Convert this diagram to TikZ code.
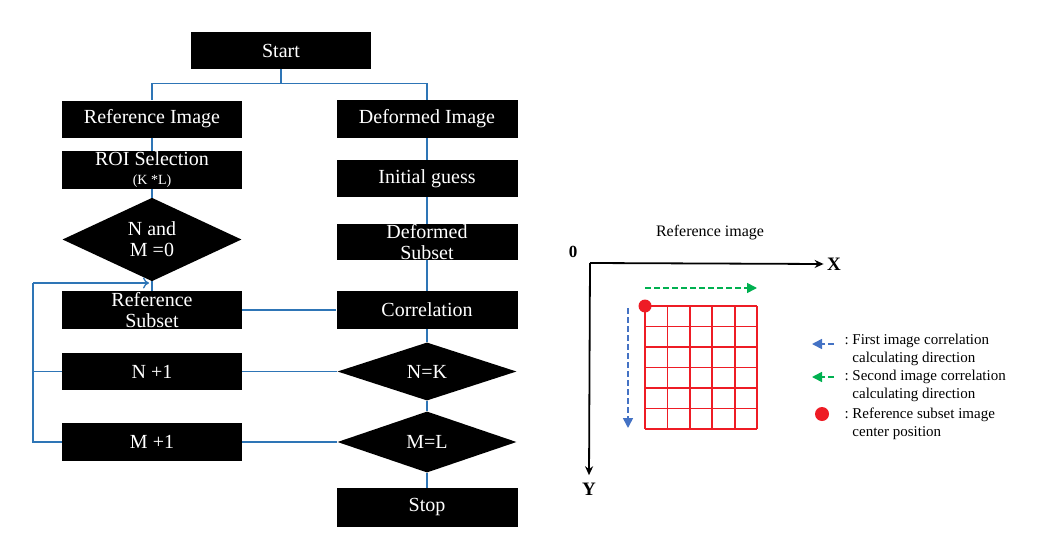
\documentclass[tikz,border=0pt]{standalone}
\usepackage{fontspec}
\setmainfont{Liberation Serif}
\usetikzlibrary{shapes.geometric, arrows.meta}
\definecolor{flowblue}{HTML}{2E75B6}
\definecolor{dirblue}{HTML}{4472C4}
\definecolor{dirgreen}{HTML}{00B050}
\definecolor{gridred}{HTML}{EE1C25}
\tikzset{
  box/.style={rectangle, fill=black, text=white, minimum width=180pt, minimum height=37pt, inner sep=0pt, align=center, font=\fontsize{20}{21}\selectfont},
  decision/.style={diamond, fill=black, text=white, minimum width=179pt, inner sep=0pt, align=center, font=\fontsize{20}{21}\selectfont},
  link/.style={flowblue, line width=1.3pt},
  axis/.style={black, line width=1.8pt, -{Stealth[length=9pt,width=8pt]}},
  dirarrow/.style={line width=1.6pt, dash pattern=on 6pt off 3pt, -{Triangle[length=10pt,width=10pt]}},
  reddot/.style={circle, fill=gridred, inner sep=0pt, minimum size=13pt},
  legend/.style={anchor=west, align=left, font=\fontsize{15}{18.5}\selectfont}
}
\begin{document}
\begin{tikzpicture}[x=1pt, y=-1pt]
\useasboundingbox (0,0) rectangle (1050,538);
% flow chart
\node[box] (start) at (281,50.5) {Start};
\node[box] (refimg) at (152,119) {Reference Image};
\node[box, minimum height=38pt] (roi) at (152,170) {ROI Selection\\[-2pt]{\fontsize{14}{15}\selectfont (K *L)}};
\node[decision, minimum height=75pt] (nmzero) at (152,239.5) {N and\\M =0};
\node[box, minimum height=38pt] (refsub) at (152,310) {Reference\\Subset};
\node[box] (nplus) at (152,371.5) {N +1};
\node[box, minimum height=38pt] (mplus) at (152,442) {M +1};

\node[box, minimum width=181pt, minimum height=38pt] (defimg) at (427,119) {Deformed Image};
\node[box, minimum width=181pt] (guess) at (427,178.5) {Initial guess};
\node[box, minimum width=181pt, minimum height=36pt] (defsub) at (427,242) {Deformed\\Subset};
\node[box, minimum width=181pt, minimum height=38pt] (corr) at (427,310) {Correlation};
\node[decision, minimum height=58pt] (neqk) at (427,371.5) {N=K};
\node[decision, minimum height=61pt] (meql) at (427,442) {M=L};
\node[box, minimum width=181pt, minimum height=39pt] (stop) at (427,507.5) {Stop};

\draw[link] (start.south) -- ++(0,14) coordinate (split);
\draw[link] (split) -| (refimg.north);
\draw[link] (split) -| (defimg.north);
\draw[link] (refimg) -- (roi);
\draw[link] (roi) -- (nmzero);
\draw[link] (nmzero) -- (refsub);
\draw[link] (defimg) -- (guess);
\draw[link] (guess) -- (defsub);
\draw[link] (defsub) -- (corr);
\draw[link] (corr) -- (neqk);
\draw[link] (neqk) -- (meql);
\draw[link] (meql) -- (stop);
\draw[link] (refsub) -- (corr);
\draw[link] (nplus) -- (neqk);
\draw[link] (mplus) -- (meql);

\coordinate (loopbot) at (33,442);
\coordinate (looptop) at (33,283);
\draw[link] (mplus.west) -- (loopbot) -- (looptop);
\draw[link] (nplus.west) -- (nplus.west -| loopbot);
\draw[link, -{To[length=6pt,width=11pt]}, shorten >=3pt] (looptop) -- (refsub.north |- looptop);

% image coordinates
\coordinate (origin) at (590,263);
\node[font=\fontsize{17}{18}\selectfont\bfseries] (zero) at (573,252) {0};
\node[font=\fontsize{19}{20}\selectfont\bfseries] (xlab) at (834,264) {X};
\node[font=\fontsize{19}{20}\selectfont\bfseries] (ylab) at (589,489) {Y};
\node[font=\fontsize{16}{18}\selectfont] (title) at (710,233) {Reference image};
\draw[axis] (origin) -- (xlab.west);
\draw[axis, shorten >=4pt] (origin) -- (ylab.north);

\foreach \i in {0,...,5}
  \draw[gridred, line width=1.8pt] (645+\i*22.4,306) -- (645+\i*22.4,429);
\foreach \j in {0,...,6}
  \draw[gridred, line width=1.8pt] (645,306+\j*20.5) -- (757,306+\j*20.5);
\node[reddot] (center) at (645,306) {};

\coordinate (gstart) at (645,288);
\coordinate (gend) at (757,288);
\draw[dirarrow, dirgreen] (gstart) -- (gend);
\coordinate (bstart) at (628,308);
\coordinate (bend) at (628,428);
\draw[dirarrow, dirblue] (bstart) -- (bend);

% legend
\coordinate (lgblue) at (834,344);
\coordinate (lgblueend) at (812,344);
\draw[dirarrow, dirblue] (lgblue) -- (lgblueend);
\node[legend] (lgtxtone) at (841,350) {:~First image correlation\\\phantom{:~}calculating direction};
\coordinate (lggreen) at (834,377);
\coordinate (lggreenend) at (812,377);
\draw[dirarrow, dirgreen] (lggreen) -- (lggreenend);
\node[legend] (lgtxttwo) at (841,386) {:~Second image correlation\\\phantom{:~}calculating direction};
\node[reddot, minimum size=14pt] (lgdot) at (822,414) {};
\node[legend] (lgtxtthree) at (841,424) {:~Reference subset image\\\phantom{:~}center position};
\end{tikzpicture}
\end{document}
